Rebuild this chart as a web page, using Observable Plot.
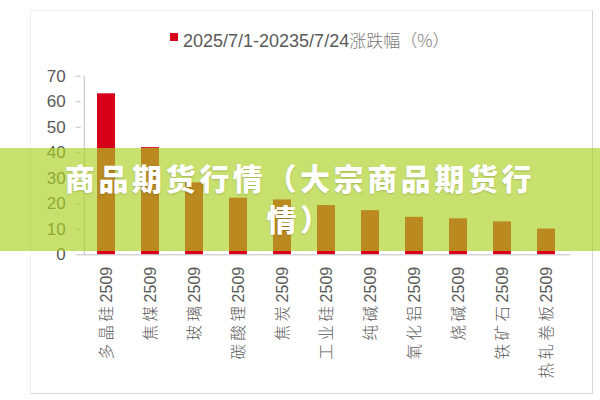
<!DOCTYPE html>
<html><head><meta charset="utf-8">
<script src="https://cdn.jsdelivr.net/npm/d3@7"></script>
<script src="https://cdn.jsdelivr.net/npm/@observablehq/plot@0.6"></script>
<style>
html,body{margin:0;padding:0;background:#fff;}
#wrap{position:relative;width:600px;height:400px;overflow:hidden;font-family:"Liberation Sans",Arial,sans-serif;}
#frame{position:absolute;left:30px;top:10px;width:561px;height:382px;border:1px solid #f0f0f0;border-right-color:#d6d6d6;border-bottom-color:#d6d6d6;}
#chart{position:absolute;left:0;top:0;}
#legend-sw{position:absolute;left:170px;top:33px;width:8px;height:8px;background:#d7001b;}
#legend{position:absolute;left:183px;top:30px;font-size:18px;line-height:20px;color:#595959;white-space:nowrap;}
#legend .cjk{font-family:"Noto Sans CJK SC";font-weight:300;color:#7a7a7a;font-size:17px;}
#banner{position:absolute;left:0;top:148px;width:600px;height:103px;background:rgba(172,209,35,0.66);display:flex;align-items:center;justify-content:center;}
#banner div{width:480px;margin-top:-4px;text-align:center;color:#fff;font-family:"Noto Sans CJK SC";font-weight:900;font-size:30px;letter-spacing:3.6px;line-height:41px;text-shadow:0 1px 2px rgba(0,0,0,0.18);}
</style></head>
<body>
<div id="wrap">
  <div id="frame"></div>
  <div id="chart"></div>
  <div id="legend-sw"></div>
  <div id="legend"></div>
  <div id="banner"><div id="banner-text"></div></div>
</div>
<script>
const categories = ["多晶硅2509","焦煤2509","玻璃2509","碳酸锂2509","焦炭2509","工业硅2509","纯碱2509","氧化铝2509","烧碱2509","铁矿石2509","热轧卷板2509"];
const values = [63.1, 42.0, 28.2, 22.2, 21.5, 19.3, 17.3, 14.7, 14.1, 12.9, 10.1];
const yTicks = [0, 10, 20, 30, 40, 50, 60, 70];
const legendDate = "2025/7/1-20235/7/24";
const legendText = "涨跌幅（%）";
const bannerTitle = "商品期货行情（大宗商品期货行情）";

const data = categories.map((c, i) => ({name: c, value: values[i]}));
const W = 600, H = 400, mL = 80.7, mR = 30;
const step = (W - mL - mR) / categories.length;
const red = "#d7001b", axisGray = "#bfbfbf", textGray = "#595959";

const plot = Plot.plot({
  width: W, height: H,
  marginLeft: mL, marginRight: mR, marginTop: 75.7, marginBottom: 145.7,
  style: {background: "transparent", fontFamily: "'Liberation Sans', Arial, 'Noto Sans CJK SC'"},
  x: {domain: categories, paddingInner: 0.6, paddingOuter: 0.3, label: null},
  y: {domain: [0, 70], label: null},
  marks: [
    Plot.barY(data, {x: "name", y: "value", fill: red}),
    Plot.ruleY([0], {stroke: axisGray}),
    Plot.ruleX([categories[0]], {y1: 0, y2: 70, dx: -step / 2, stroke: axisGray}),
    Plot.ruleX(categories, {y1: 0, y2: -0.2, dx: -step / 2, stroke: axisGray}),
    Plot.ruleX([categories[categories.length - 1]], {y1: 0, y2: -0.2, dx: step / 2, stroke: axisGray}),
    Plot.axisY({ticks: yTicks, tickSize: 5, tickPadding: 10.5, fontSize: 17, stroke: axisGray, fill: textGray, label: null}),
    Plot.axisX({tickRotate: -90, tickSize: 0, tickPadding: 12, fontSize: 16, fill: textGray, label: null})
  ]
});
document.getElementById("chart").appendChild(plot);

// letter-spaced CJK part of the rotated category labels
plot.querySelectorAll('[aria-label="x-axis tick label"] text').forEach(t => {
  const s = t.textContent;
  const m = s.match(/^(\D+)(\d+)$/);
  if (!m) return;
  t.textContent = "";
  const ns = "http://www.w3.org/2000/svg";
  const a = document.createElementNS(ns, "tspan");
  a.textContent = m[1];
  a.setAttribute("letter-spacing", "3.5");
  a.setAttribute("font-family", "'Noto Sans CJK SC'");
  a.setAttribute("font-weight", "300");
  a.setAttribute("font-size", "15.5");
  const b = document.createElementNS(ns, "tspan");
  b.textContent = m[2];
  t.appendChild(a); t.appendChild(b);
});

const lg = document.getElementById("legend");
lg.innerHTML = "";
const sp1 = document.createElement("span"); sp1.textContent = legendDate;
const sp2 = document.createElement("span"); sp2.className = "cjk"; sp2.textContent = legendText;
lg.appendChild(sp1); lg.appendChild(sp2);

document.getElementById("banner-text").textContent = bannerTitle;
</script>
</body></html>
